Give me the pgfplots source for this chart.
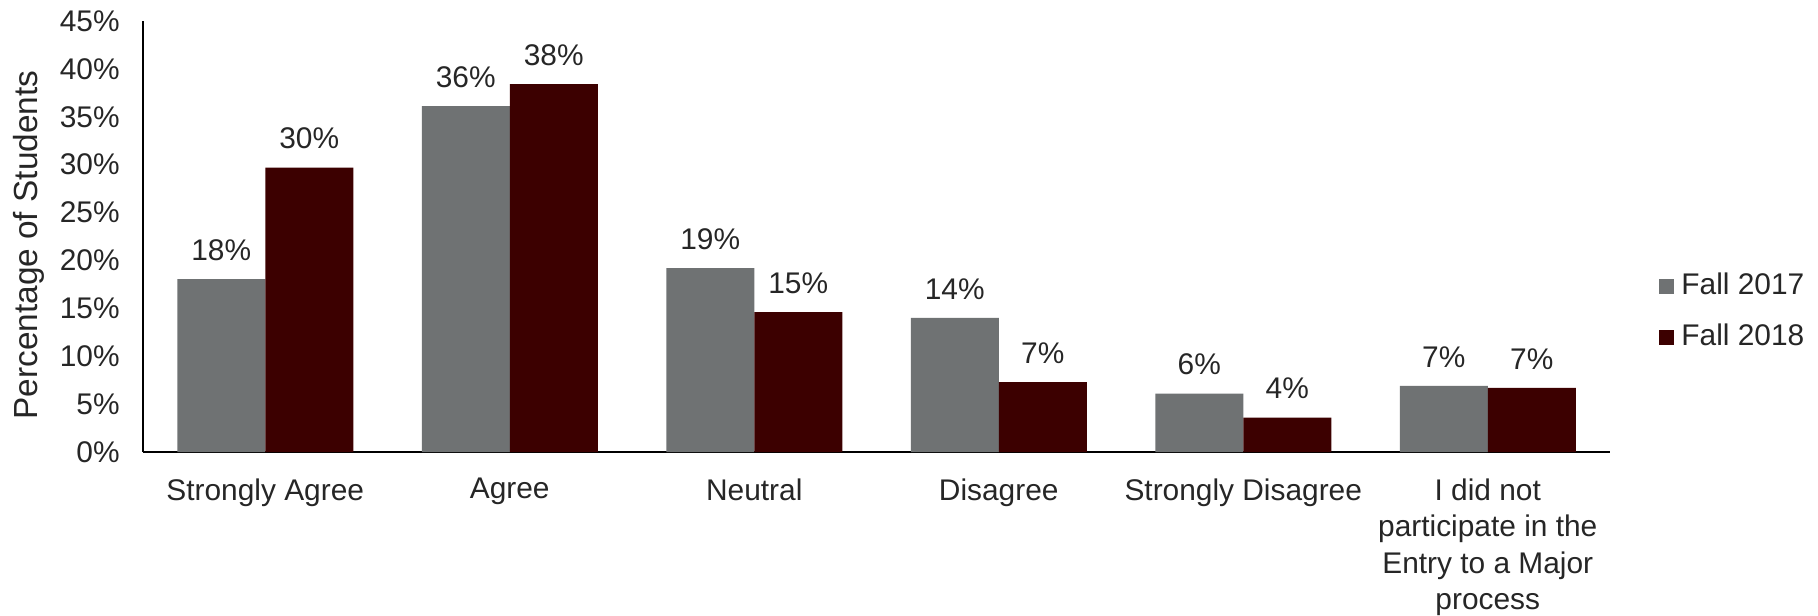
\documentclass[border=0pt]{standalone}
\usepackage{fontspec}
\setmainfont{Liberation Sans}
\usepackage{pgfplots}
\usepackage{pgfplotstable}
\pgfplotsset{compat=1.18}
\usetikzlibrary{calc}
\definecolor{cgray}{RGB}{111,114,115}
\definecolor{cmaroon}{RGB}{60,0,0}
\definecolor{ctext}{RGB}{38,38,38}

\pgfplotstableread{
x y
0 18.06
1 36.1
2 19.2
3 14.0
4 6.1
5 6.9
}\fallA
\pgfplotstableread{
x y
0 29.7
1 38.4
2 14.6
3 7.3
4 3.6
5 6.7
}\fallB

\begin{document}
\begin{tikzpicture}
\begin{axis}[
  scale only axis,
  width=146.7mm, height=43.1mm,
  ybar=0pt, bar width=8.8mm,
  xmin=-0.5, xmax=5.5, ymin=0, ymax=45,
  enlarge x limits=false, enlarge y limits=false,
  axis x line*=bottom, axis y line*=left,
  axis line style={black, line width=0.5pt},
  major tick length=0pt,
  ytick={0,5,...,45},
  xtick={0,...,5},
  xticklabels={Strongly Agree, Agree, Neutral, Disagree, Strongly Disagree, {I did not\\participate in the\\Entry to a Major\\process}},
  /pgf/number format/assume math mode=true,
  yticklabel={\pgfmathprintnumber{\tick}\%},
  tick label style={font=\fontsize{8.5}{10.6}\selectfont, text=ctext},
  xticklabel style={align=center, yshift=-1.4mm, font=\fontsize{8.5}{10.4}\selectfont},
  yticklabel style={xshift=-1.1mm},
  ylabel={Percentage of Students},
  ylabel style={at={(axis description cs:-0.0777,0.48)}, rotate=0, anchor=center, font=\fontsize{9.5}{11}\selectfont, text=ctext},
  nodes near coords={\pgfmathprintnumber[fixed,precision=0]{\pgfplotspointmeta}\%},
  every node near coord/.append style={font=\fontsize{8.5}{10.6}\selectfont, text=ctext, yshift=0.6mm},
  point meta=y,
  clip=false,
  legend style={at={(axis description cs:1.026,0.45)}, anchor=north west, draw=none, fill=none,
    font=\fontsize{8.5}{10.6}\selectfont, text=ctext, row sep=1mm},
  legend image code/.code={\fill[#1,draw=none] (0cm,-0.75mm) rectangle (1.5mm,0.75mm);},
]
\addplot[fill=cgray, draw=none] table[x=x,y=y] {\fallA};
\addplot[fill=cmaroon, draw=none] table[x=x,y=y] {\fallB};
\legend{Fall 2017, Fall 2018}
\coordinate (bl) at (rel axis cs:0,0);
\coordinate (tr) at (rel axis cs:1,1);
\end{axis}
\pgfresetboundingbox
\path[use as bounding box] ($(bl)+(-14.3mm,-16.3mm)$) rectangle ($(tr)+(20.8mm,2.1mm)$);
\end{tikzpicture}
\end{document}
